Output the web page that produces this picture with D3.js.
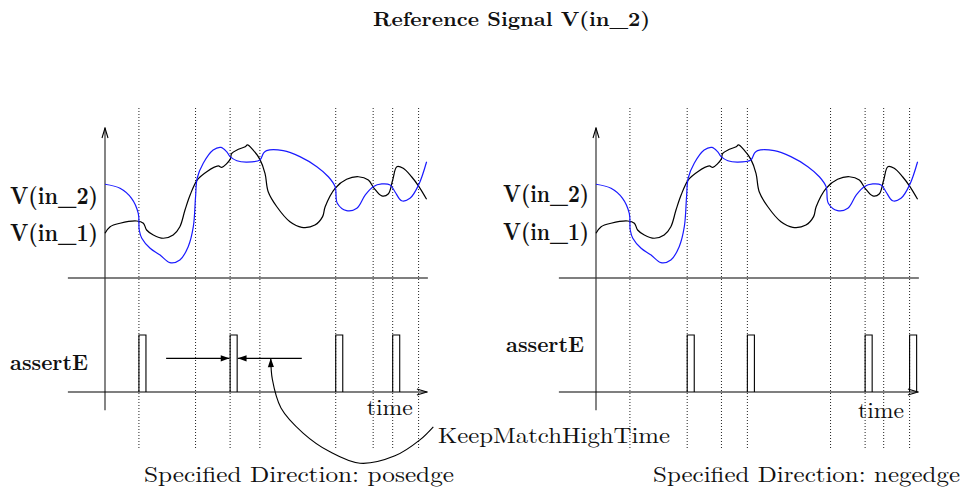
<!DOCTYPE html>
<html>
<head>
<meta charset="utf-8">
<script src="https://cdn.jsdelivr.net/npm/d3@7"></script>
<style>
  body { margin: 0; background: #fff; }
</style>
</head>
<body>
<svg id="chart" width="965" height="493"></svg>
<script>
// signal traces, [time, voltage] (time 0..100, voltage 0..10)
const vIn2 = [
  [0, 6.25], [4.7, 5.98], [8.3, 5.31], [10.4, 4.31], [10.7, 3.2], [11.5, 2.65],
  [14.1, 1.98], [17.2, 1.53], [20.3, 1.02], [23.4, 1.2], [26.0, 2.09], [27.6, 3.42],
  [28.3, 5.42], [28.8, 6.65], [30.7, 7.65], [33.8, 8.53], [36.2, 8.71], [38.0, 8.42],
  [39.1, 8.09], [41.2, 7.82], [44.3, 7.73], [48.4, 7.87], [49.5, 8.31], [50.5, 8.49],
  [55.7, 8.49], [60.9, 8.09], [66.2, 7.42], [69.8, 6.75], [71.9, 6.09], [72.6, 4.98],
  [75.5, 4.49], [78.7, 4.65], [81.3, 5.53], [83.8, 6.09], [86.5, 6.27], [89.1, 6.2],
  [90.6, 5.75], [92.7, 5.15], [95.3, 5.31], [98.0, 6.2], [100.5, 7.75]
];
const vIn1 = [
  [0, 2.98], [1.6, 3.42], [4.7, 3.65], [9.9, 3.8], [12.0, 3.65], [13.0, 3.2],
  [15.1, 2.87], [18.2, 2.65], [21.3, 2.87], [23.4, 3.42], [25.0, 4.53], [26.6, 5.53],
  [28.8, 6.53], [31.8, 7.09], [35.4, 7.47], [36.5, 7.38], [39.1, 7.91], [39.6, 8.31],
  [41.7, 8.58], [43.8, 8.75], [44.5, 8.87], [46.3, 8.53], [48.4, 7.91], [50.0, 6.98],
  [51.0, 5.75], [53.7, 4.75], [57.8, 3.75], [61.5, 3.38], [65.6, 3.53], [68.0, 4.09],
  [68.8, 4.75], [71.9, 5.98], [75.5, 6.58], [79.2, 6.75], [82.3, 6.53], [84.1, 5.98],
  [86.5, 5.47], [88.5, 5.6], [89.9, 6.53], [91.2, 7.42], [93.2, 7.31], [95.8, 6.75],
  [98.0, 6.13], [100.5, 5.25]
];

// crossing times (dotted markers) for each panel
const crossingsPos = [10.6, 28.3, 39.1, 48.4, 72.1, 83.8, 89.9, 98.0];
const crossingsNeg = [10.6, 28.5, 39.2, 47.3, 73.3, 84.1, 89.9, 98.0];
// which crossings fire an assertE pulse
const pulsesPos = [0, 2, 4, 6];
const pulsesNeg = [1, 3, 5, 7];
const pulseWidth = 2.2;

// KeepMatchHighTime callout curve, [time, level] in left panel's lower scale
const keepCurve = [
  [102.6, -0.61], [98.4, -0.84], [90.6, -1.12], [79.7, -1.25], [70.3, -1.05],
  [61.9, -0.72], [55.0, -0.28], [52.3, 0.22], [51.8, 0.59]
];

const serif = "Latin Modern Roman";

const panels = [
  { axisX: 105, crossings: crossingsPos, pulses: pulsesPos, dir: "posedge",
    v2: [10, 204], v1: [10, 241], vLen: 88, assert: [10, 370], time: [366.7, 415], caption: [144, 482], capLen: 310 },
  { axisX: 596, crossings: crossingsNeg, pulses: pulsesNeg, dir: "negedge",
    v2: [503, 202], v1: [503, 240], vLen: 86, assert: [506, 352], time: [858, 418], caption: [653, 482], capLen: 307 }
];

const svg = d3.select("#chart");
const defs = svg.append("defs");
defs.append("marker")
    .attr("id", "head")
    .attr("viewBox", "0 -4 10 8")
    .attr("refX", 10).attr("refY", 0)
    .attr("markerWidth", 10).attr("markerHeight", 7)
    .attr("markerUnits", "userSpaceOnUse")
    .attr("orient", "auto")
  .append("path")
    .attr("d", "M0,-3.5L10,0L0,3.5Z")
    .attr("fill", "#000");
defs.append("marker")
    .attr("id", "open")
    .attr("viewBox", "-1 -5 12 10")
    .attr("refX", 10).attr("refY", 0)
    .attr("markerWidth", 12).attr("markerHeight", 10)
    .attr("markerUnits", "userSpaceOnUse")
    .attr("orient", "auto")
  .append("path")
    .attr("d", "M0,-3L10,0L0,3")
    .attr("fill", "none")
    .attr("stroke", "#000")
    .attr("stroke-width", 1.1);

// upper (analog) and lower (logic) vertical scales, shared
const yV = d3.scaleLinear().domain([0, 10]).range([278, 128]);
const yL = d3.scaleLinear().domain([0, 1]).range([392, 335]);

function label(sel, txt, pos, size, len, weight) {
  return sel.append("text")
    .attr("x", pos[0]).attr("y", pos[1])
    .attr("font-family", serif)
    .attr("font-weight", weight || "normal")
    .attr("font-size", size)
    .attr("fill", "#111")
    .attr("textLength", len).attr("lengthAdjust", "spacingAndGlyphs")
    .text(txt);
}

panels.forEach((p, pi) => {
  const x = d3.scaleLinear().domain([0, 100]).range([p.axisX, p.axisX + 320]);
  const g = svg.append("g");

  // dotted crossing markers
  g.selectAll(".cross")
    .data(p.crossings)
    .join("line")
      .attr("x1", d => x(d)).attr("x2", d => x(d))
      .attr("y1", 108).attr("y2", 448)
      .attr("stroke", "#222")
      .attr("stroke-width", 1)
      .attr("stroke-dasharray", "1,2");

  // analog baseline
  g.append("line")
    .attr("x1", x(-11.6)).attr("x2", x(100.9))
    .attr("y1", yV(0)).attr("y2", yV(0))
    .attr("stroke", "#555").attr("stroke-width", 1.3);

  // vertical axis
  g.append("line")
    .attr("x1", x(0)).attr("x2", x(0))
    .attr("y1", yL(-0.32)).attr("y2", yV(10))
    .attr("stroke", "#333").attr("stroke-width", 1.2)
    .attr("marker-end", "url(#open)");

  // time axis
  g.append("line")
    .attr("x1", x(-11.6)).attr("x2", x(100.6))
    .attr("y1", yL(0)).attr("y2", yL(0))
    .attr("stroke", "#000").attr("stroke-width", 1.2)
    .attr("marker-end", "url(#open)");

  const line = d3.line()
    .x(d => x(d[0]))
    .y(d => yV(d[1]))
    .curve(d3.curveCatmullRom.alpha(0.5));

  g.append("path").attr("d", line(vIn1))
    .attr("fill", "none").attr("stroke", "#000").attr("stroke-width", 1.2);
  g.append("path").attr("d", line(vIn2))
    .attr("fill", "none").attr("stroke", "#1a1aff").attr("stroke-width", 1.2);

  // assertE pulses
  g.selectAll(".pulse")
    .data(p.pulses.map(i => p.crossings[i]))
    .join("path")
      .attr("d", t => `M${x(t)},${yL(0)}V${yL(1)}H${x(t + pulseWidth)}V${yL(0)}`)
      .attr("fill", "none")
      .attr("stroke", "#000")
      .attr("stroke-width", 1.1);

  // labels
  label(g, "V(in_2)", p.v2, 24, p.vLen, "bold");
  label(g, "V(in_1)", p.v1, 24, p.vLen, "bold");
  label(g, "assertE", p.assert, 22, 78, "bold");
  label(g, "time", p.time, 22, 46);
  label(g, "Specified Direction: " + p.dir, p.caption, 22, p.capLen);

  // KeepMatchHighTime annotation on the posedge panel
  if (pi === 0) {
    const c = p.crossings[p.pulses[1]];
    const ya = yL(0.59);
    g.append("line")
      .attr("x1", x(19.1)).attr("x2", x(c - 0.2))
      .attr("y1", ya).attr("y2", ya)
      .attr("stroke", "#000").attr("stroke-width", 1.2)
      .attr("marker-end", "url(#head)");
    g.append("line")
      .attr("x1", x(61.5)).attr("x2", x(c + pulseWidth + 0.2))
      .attr("y1", ya).attr("y2", ya)
      .attr("stroke", "#000").attr("stroke-width", 1.2)
      .attr("marker-end", "url(#head)");

    const arc = d3.line()
      .x(d => x(d[0]))
      .y(d => yL(d[1]))
      .curve(d3.curveCatmullRom.alpha(0.5));
    g.append("path")
      .attr("d", arc(keepCurve))
      .attr("fill", "none").attr("stroke", "#000").attr("stroke-width", 1.1)
      .attr("marker-end", "url(#head)");

    label(g, "KeepMatchHighTime", [438, 443], 22, 232);
  }
});

// title
label(svg, "Reference Signal V(in_2)", [373, 26], 20, 277, "bold");
</script>
</body>
</html>
